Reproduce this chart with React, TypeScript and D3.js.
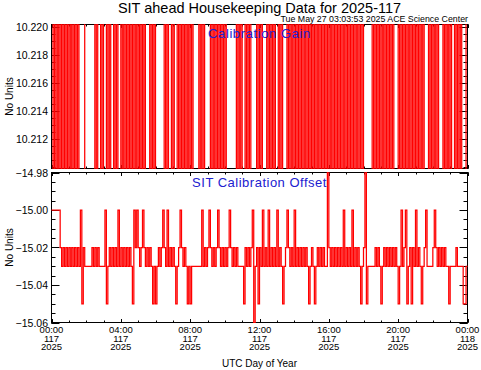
import * as d3 from 'd3';
import { useEffect, useRef } from 'react';

// day 117 of 2025
const startTime = new Date(Date.UTC(2025, 3, 27));
const endTime = new Date(Date.UTC(2025, 3, 28));
const cadenceMinutes = 5;

// Calibration Gain: one string per hour, one char per 5 min sample ('0' low, '1' high)
const gainCodes = [
    '010101010101', '010101011110', '000000101101', '001010010100',
    '101010101010', '101010001010', '111111010110', '100101010101',
    '010000101011', '110101010101', '011111110101', '001010111101',
    '010001010101', '101011101010', '101010101010', '101010101010',
    '101010101010', '101010101010', '111111010101', '010101010111',
    '010101010101', '010101000101', '010100010101', '011010101110',
];
const gainLevels = { '0': 10.2098, '1': 10.2203 };
const gainTicks = [10.212, 10.214, 10.216, 10.218, 10.220];

// SIT Calibration Offset: same layout, chars map to offsetLevels
const offsetCodes = [
    '000000232323', '232323230523', '333323232333', '305323232303',
    '232323235020', '232023232353', '532320230323', '235320232353',
    '533333330323', '202323202323', '232023232333', '352323206325',
    '230323032323', '032353202323', '032323232353', '23532323233a',
    '232323232303', '232303232353', '2a5333332323', '532323232323',
    '530320532523', '032353203333', '202323232335', '333323333553',
];
const offsetLevels = { a: -14.97, '0': -15.0, '2': -15.02, '3': -15.03, '5': -15.05, '6': -15.06 };
const offsetTicks = [-15.06, -15.04, -15.02, -15.0, -14.98];

const title = 'SIT ahead Housekeeping Data for 2025-117';
const stamp = 'Tue May 27 03:03:53 2025 ACE Science Center';

function App() {
    const svgRef = useRef(null);

    useEffect(() => {
        document.body.style.margin = '0';
        const w = 481;
        const h = 370;
        const left = 51.5;
        const right = 467.5;
        const font = "'Liberation Sans', Arial, Helvetica, sans-serif";

        const svg = d3.select(svgRef.current)
            .attr('width', w)
            .attr('height', h)
            .style('display', 'block')
            .style('background', '#fff');
        svg.selectAll('*').remove();

        const x = d3.scaleUtc().domain([startTime, endTime]).range([left, right]);

        const series = (codes, levels) => {
            const pts = codes.join('').split('').map((c, i) => ({
                t: d3.utcMinute.offset(startTime, i * cadenceMinutes),
                v: levels[c],
            }));
            pts.push({ t: endTime, v: pts[pts.length - 1].v });
            return pts;
        };

        const panels = [
            {
                top: 24.5, bottom: 168.5, domain: [10.2099, 10.22015], ticks: gainTicks,
                minorCount: 20, fmt: d3.format('.3f'), data: series(gainCodes, gainLevels),
                label: 'Calibration Gain', labelY: 37.5, labelSpacing: 0.6, xLabels: false,
            },
            {
                top: 172.5, bottom: 322.5, domain: [-15.06, -14.98], ticks: offsetTicks,
                minorCount: 16, fmt: d3.format('.2f'), data: series(offsetCodes, offsetLevels),
                label: 'SIT Calibration Offset', labelY: 187, labelSpacing: 0.5, xLabels: true,
            },
        ];

        const majorX = x.ticks(d3.utcHour.every(4));
        const minorX = x.ticks(d3.utcHour.every(1));

        panels.forEach((p, k) => {
            const y = d3.scaleLinear().domain(p.domain).range([p.bottom, p.top]);
            const g = svg.append('g');

            // x ticks, top and bottom edge
            const xt = [
                ...minorX.map(t => ({ t, len: 2 })),
                ...majorX.map(t => ({ t, len: 3.5 })),
            ];
            g.selectAll('.xb').data(xt).join('line')
                .attr('x1', d => Math.round(x(d.t)) + 0.5).attr('x2', d => Math.round(x(d.t)) + 0.5)
                .attr('y1', p.bottom).attr('y2', d => p.bottom - d.len)
                .attr('stroke', '#000');
            g.selectAll('.xt').data(xt).join('line')
                .attr('x1', d => Math.round(x(d.t)) + 0.5).attr('x2', d => Math.round(x(d.t)) + 0.5)
                .attr('y1', p.top).attr('y2', d => p.top + d.len)
                .attr('stroke', '#000');

            // y ticks, left and right edge
            const yt = [
                ...d3.ticks(p.domain[0], p.domain[1], p.minorCount).map(v => ({ v, len: 4 })),
                ...p.ticks.map(v => ({ v, len: 8 })),
            ];
            ['l', 'r'].forEach(side => {
                g.append('g').selectAll('line').data(yt).join('line')
                    .attr('x1', side === 'l' ? left : right)
                    .attr('x2', d => side === 'l' ? left + d.len : right - d.len)
                    .attr('y1', d => Math.round(y(d.v)) + 0.5).attr('y2', d => Math.round(y(d.v)) + 0.5)
                    .attr('stroke', '#000');
            });

            g.append('rect')
                .attr('x', left).attr('y', p.top)
                .attr('width', right - left).attr('height', p.bottom - p.top)
                .attr('fill', 'none').attr('stroke', '#000');

            const clipId = `clip${k}`;
            g.append('clipPath').attr('id', clipId).append('rect')
                .attr('x', left - 0.5).attr('y', p.top - 0.5)
                .attr('width', right - left + 1).attr('height', p.bottom - p.top + 1);

            const line = d3.line()
                .x(d => x(d.t))
                .y(d => y(d.v))
                .curve(d3.curveStepAfter);

            g.append('path')
                .datum(p.data)
                .attr('clip-path', `url(#${clipId})`)
                .attr('d', line)
                .attr('fill', 'none')
                .attr('stroke', '#ff0000')
                .attr('stroke-width', 1.25);

            // tick labels
            g.selectAll('.yl').data(p.ticks).join('text')
                .attr('x', 48).attr('y', d => y(d) + 4)
                .attr('text-anchor', 'end')
                .style('font-family', font).style('font-size', '10.5px')
                .text(p.fmt);

            g.append('text')
                .attr('transform', `translate(13,${(p.top + p.bottom) / 2}) rotate(-90)`)
                .attr('text-anchor', 'middle')
                .style('font-family', font).style('font-size', '10px')
                .text('No Units');

            g.append('text')
                .attr('x', (left + right) / 2).attr('y', p.labelY)
                .attr('text-anchor', 'middle')
                .attr('fill', '#2020d0')
                .style('font-family', font).style('font-size', '13px')
                .style('letter-spacing', `${p.labelSpacing}px`)
                .text(p.label);

            if (p.xLabels) {
                const rows = [
                    { y: 333, f: d3.utcFormat('%H:%M') },
                    { y: 341.5, f: d3.utcFormat('%j') },
                    { y: 350, f: d3.utcFormat('%Y') },
                ];
                rows.forEach(r => {
                    g.append('g').selectAll('text').data(majorX).join('text')
                        .attr('x', d => x(d)).attr('y', r.y)
                        .attr('text-anchor', 'middle')
                        .style('font-family', font).style('font-size', '9.5px')
                        .text(r.f);
                });
            }
        });

        svg.append('text')
            .attr('x', (left + right) / 2).attr('y', 12.5)
            .attr('text-anchor', 'middle')
            .style('font-family', font).style('font-size', '14.5px')
            .text(title);

        svg.append('text')
            .attr('x', 468).attr('y', 21.5)
            .attr('text-anchor', 'end')
            .style('font-family', font).style('font-size', '8.8px')
            .text(stamp);

        svg.append('text')
            .attr('x', (left + right) / 2).attr('y', 366.5)
            .attr('text-anchor', 'middle')
            .style('font-family', font).style('font-size', '10px')
            .text('UTC Day of Year');
    }, []);

    return (
        <div>
            <svg ref={svgRef}></svg>
        </div>
    );
}

export default App;
